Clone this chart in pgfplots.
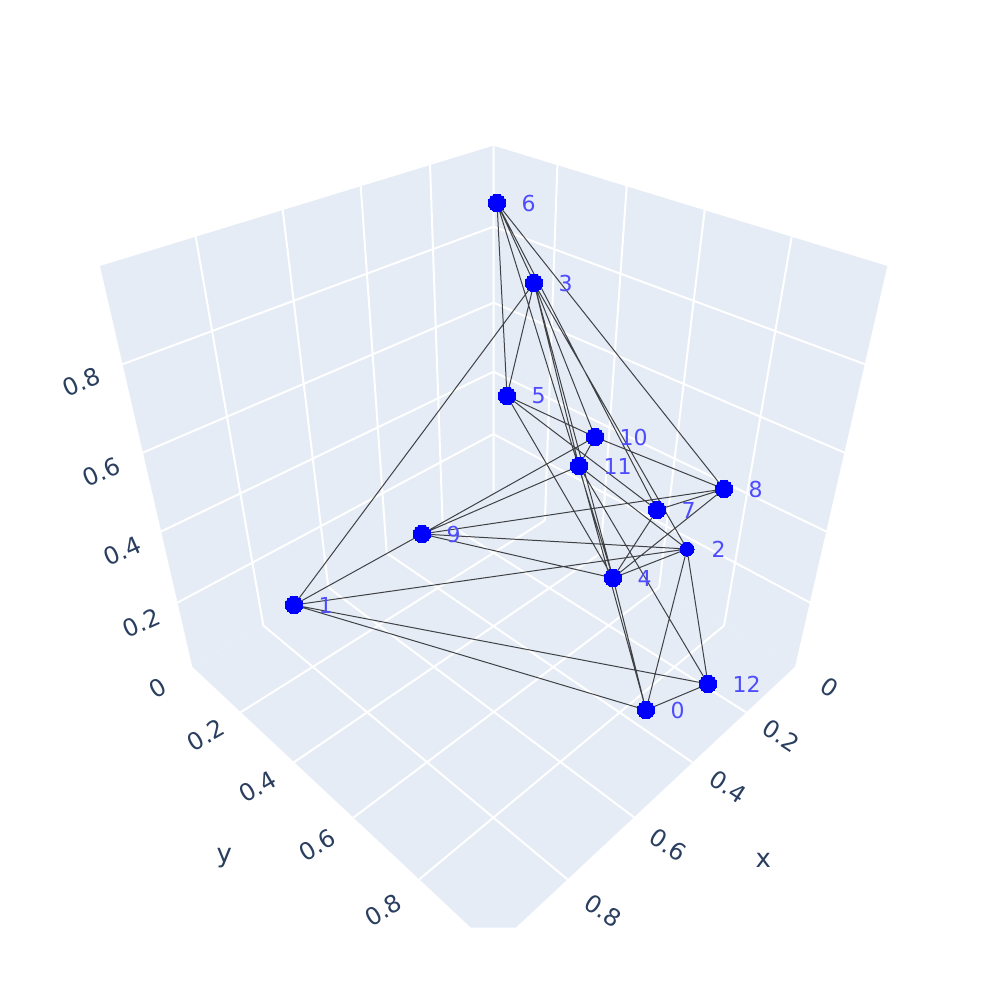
\documentclass[border=0pt]{standalone}
\usepackage{fontspec}
\setmainfont{DejaVu Sans}
\usepackage{pgfplots}
\pgfplotsset{compat=1.18}
\definecolor{wall}{RGB}{229,236,246}
\definecolor{ticktext}{RGB}{42,63,95}
\definecolor{nodetext}{RGB}{77,77,255}

\tikzset{
    grid line/.style={white, line width=2pt},
    edge line/.style={black, opacity=0.72, line width=1pt},
    tick text/.style={text=ticktext, font=\fontsize{24}{24}\selectfont, inner sep=0pt},
}
\pgfplotsset{
    node mark/.style={only marks, color=blue, mark=*, mark size=8.7pt,
        mark options={solid, line width=0pt, draw=blue, fill=blue},
        nodes near coords, point meta=explicit symbolic,
        nodes near coords style={anchor=west, inner sep=0pt, xshift=24.5pt,
            text=nodetext, font=\fontsize{22}{22}\selectfont}},
}

% node positions, projected to picture pixels
\pgfplotstableread{
px py label
294 605 1
534 283 3
613 578 4
507 396 5
497 203 6
657 510 7
422 534 9
595 437 10
708 684 12
}\nodesback
\pgfplotstableread{
px py label
646 710 0
724 489 8
579 466 11
}\nodesfront
% node 2 is half hidden in the reference, so it looks smaller
\pgfplotstableread{
px py label
687 549 2
}\nodetwo

\begin{document}
\begin{tikzpicture}
\begin{axis}[
    hide axis,
    scale only axis,
    width=987pt, height=987pt,
    xmin=0, xmax=987, ymin=0, ymax=987,
    y dir=reverse,
    clip=true,
    unbounded coords=jump,
]
% walls and floor
\addplot[fill=wall, draw=none] coordinates {(100,266) (493.5,145.7) (493.5,491) (192.3,666.7)} -- cycle;
\addplot[fill=wall, draw=none] coordinates {(887.3,266) (493.5,145.7) (493.5,491) (795,666.7)} -- cycle;
\addplot[fill=wall, draw=none] coordinates {(192.3,666.7) (493.5,491) (795,666.7) (515.7,927.7) (471,927.7)} -- cycle;

% left wall grid
\addplot[grid line] coordinates {
 (122.3,364.3) (493.5,226.7) (nan,nan)
 (142.7,452.7) (493.5,302.7) (nan,nan)
 (160.7,531.7) (493.5,371.7) (nan,nan)
 (177.3,602.7) (493.5,434) (nan,nan)
 (195.7,236.7) (263.3,625.5) (nan,nan)
 (282.7,210) (328.3,587.4) (nan,nan)
 (360.7,186) (386.7,553) (nan,nan)
 (430,164.3) (442.5,520.5) (nan,nan)
 (493.5,145.7) (493.5,491)
};
% right wall grid
\addplot[grid line] coordinates {
 (865.1,364.3) (493.5,226.7) (nan,nan)
 (844.7,452.7) (493.5,302.7) (nan,nan)
 (826.7,531.7) (493.5,371.7) (nan,nan)
 (810.1,602.7) (493.5,434) (nan,nan)
 (791.7,236.7) (724.1,625.5) (nan,nan)
 (704.7,210) (659.1,587.4) (nan,nan)
 (626.7,186) (600.7,553) (nan,nan)
 (557.4,164.3) (544.9,520.5)
};
% floor grid
\addplot[grid line] coordinates {
 (240,712.7) (544.9,520.5) (nan,nan)
 (294,762.3) (600.7,553) (nan,nan)
 (353.3,817.7) (659.1,587.4) (nan,nan)
 (419.3,879.3) (724.1,625.5) (nan,nan)
 (746.7,712.7) (442.5,520.5) (nan,nan)
 (692.3,762.3) (386.7,553) (nan,nan)
 (634,817.3) (328.3,587.4) (nan,nan)
 (567.3,879.3) (263.3,625.5)
};

\addplot[node mark] table[x=px, y=py, meta=label] {\nodesback};
\addplot[node mark, mark size=7pt] table[x=px, y=py, meta=label] {\nodetwo};

% network edges
\addplot[edge line] coordinates {
 (497,203) (534,283) (nan,nan)
 (497,203) (507,396) (nan,nan)
 (497,203) (613,578) (nan,nan)
 (497,203) (657,510) (nan,nan)
 (497,203) (724,489) (nan,nan)
 (534,283) (294,605) (nan,nan)
 (534,283) (507,396) (nan,nan)
 (534,283) (595,437) (nan,nan)
 (534,283) (579,466) (nan,nan)
 (534,283) (613,578) (nan,nan)
 (534,283) (687,549) (nan,nan)
 (507,396) (595,437) (nan,nan)
 (507,396) (657,510) (nan,nan)
 (507,396) (613,578) (nan,nan)
 (595,437) (724,489) (nan,nan)
 (595,437) (579,466) (nan,nan)
 (595,437) (422,534) (nan,nan)
 (579,466) (422,534) (nan,nan)
 (579,466) (687,549) (nan,nan)
 (579,466) (708,684) (nan,nan)
 (579,466) (646,710) (nan,nan)
 (657,510) (724,489) (nan,nan)
 (657,510) (613,578) (nan,nan)
 (724,489) (422,534) (nan,nan)
 (724,489) (613,578) (nan,nan)
 (687,549) (422,534) (nan,nan)
 (687,549) (294,605) (nan,nan)
 (687,549) (613,578) (nan,nan)
 (687,549) (646,710) (nan,nan)
 (687,549) (708,684) (nan,nan)
 (613,578) (422,534) (nan,nan)
 (613,578) (646,710) (nan,nan)
 (422,534) (294,605) (nan,nan)
 (294,605) (708,684) (nan,nan)
 (294,605) (646,710) (nan,nan)
 (646,710) (708,684)
};

\addplot[node mark] table[x=px, y=py, meta=label] {\nodesfront};

% tick labels and axis titles
\node[tick text, rotate=30] at (axis cs:157.3,687.7) {0};
\node[tick text, rotate=30] at (axis cs:206,735) {0.2};
\node[tick text, rotate=30] at (axis cs:257.7,786.7) {0.4};
\node[tick text, rotate=30] at (axis cs:317.3,845) {0.6};
\node[tick text, rotate=30] at (axis cs:383.3,910) {0.8};
\node[tick text, rotate=-33] at (axis cs:829.3,687.7) {0};
\node[tick text, rotate=-33] at (axis cs:781,735.7) {0.2};
\node[tick text, rotate=-33] at (axis cs:728.3,786.7) {0.4};
\node[tick text, rotate=-33] at (axis cs:668.3,845) {0.6};
\node[tick text, rotate=-33] at (axis cs:603.3,910.7) {0.8};
\node[tick text, rotate=24] at (axis cs:141,622.7) {0.2};
\node[tick text, rotate=24] at (axis cs:122,551) {0.4};
\node[tick text, rotate=24] at (axis cs:101,472) {0.6};
\node[tick text, rotate=24] at (axis cs:81,382) {0.8};
\node[tick text, font=\fontsize{26}{26}\selectfont] at (axis cs:224.3,858) {y};
\node[tick text, font=\fontsize{26}{26}\selectfont] at (axis cs:763.3,860) {x};
\end{axis}
\path (0,0) rectangle (987pt,987pt);
\end{tikzpicture}
\end{document}
